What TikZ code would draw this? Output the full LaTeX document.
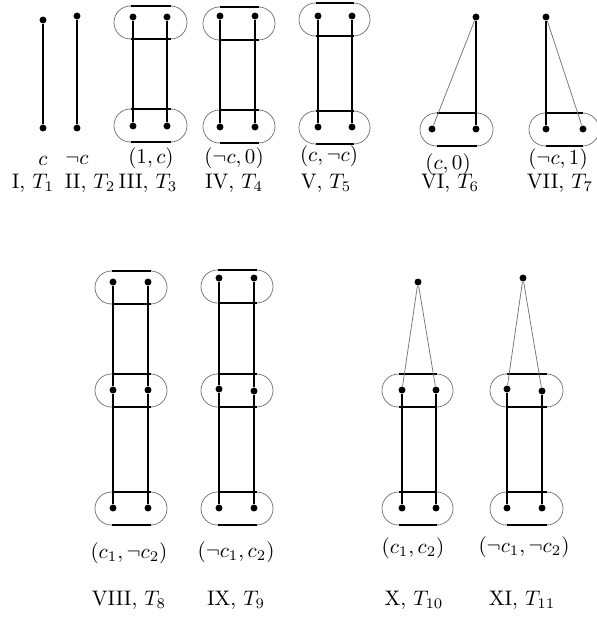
\documentclass[tikz,border=0pt]{standalone}
\usepackage{amsmath}
\usepackage{tikz}
\tikzset{
  dot/.style={circle, fill=black, inner sep=0pt, minimum size=3.3pt},
  edge/.style={line width=0.85pt, color=black},
  link/.style={line width=0.35pt, color=black!55},
  rim/.style={line width=0.35pt, color=black!55, rounded corners=7.8pt},
  bar/.style={line width=0.85pt, color=black}
}

\begin{document}
\begin{tikzpicture}[x=0.475pt, y=-0.475pt]
  \useasboundingbox (0,0) rectangle (596,619);

  % I and II: single edges
  \node[dot] (p1t) at (43,20) {};
  \node[dot] (p1b) at (43,128) {};
  \node[dot] (p2t) at (77,16) {};
  \node[dot] (p2b) at (77,128) {};
  \draw[edge] (p1t) -- (p1b);
  \draw[edge] (p2t) -- (p2b);

  % III
  \draw[rim] (114,6) rectangle (187,39);
  \draw[bar] (130.5,6) -- (170.5,6) (130.5,39) -- (170.5,39);
  \draw[rim] (114,109) rectangle (187,142);
  \draw[bar] (130.5,109) -- (170.5,109) (130.5,142) -- (170.5,142);
  \node[dot] (p3tl) at (133,17) {};
  \node[dot] (p3tr) at (167,17) {};
  \node[dot] (p3bl) at (133,126) {};
  \node[dot] (p3br) at (167,126) {};
  \draw[edge] (p3tl) -- (p3bl) (p3tr) -- (p3br);

  % IV
  \draw[rim] (203,7) rectangle (275,40);
  \draw[bar] (219.5,7) -- (258.5,7) (219.5,40) -- (258.5,40);
  \draw[rim] (203,110) rectangle (275,143);
  \draw[bar] (219.5,110) -- (258.5,110) (219.5,143) -- (258.5,143);
  \node[dot] (p4tl) at (220,16) {};
  \node[dot] (p4tr) at (255,16) {};
  \node[dot] (p4bl) at (220,127) {};
  \node[dot] (p4br) at (255,127) {};
  \draw[edge] (p4tl) -- (p4bl) (p4tr) -- (p4br);

  % V
  \draw[rim] (299,3) rectangle (370,36);
  \draw[bar] (315.5,3) -- (353.5,3) (315.5,36) -- (353.5,36);
  \draw[rim] (299,111) rectangle (370,144);
  \draw[bar] (315.5,111) -- (353.5,111) (315.5,144) -- (353.5,144);
  \node[dot] (p5tl) at (318,16) {};
  \node[dot] (p5tr) at (352,16) {};
  \node[dot] (p5bl) at (318,127) {};
  \node[dot] (p5br) at (352,127) {};
  \draw[edge] (p5tl) -- (p5bl) (p5tr) -- (p5br);

  % VI
  \draw[rim] (420,113) rectangle (493,146);
  \draw[bar] (436.5,113) -- (476.5,113) (436.5,146) -- (476.5,146);
  \node[dot] (p6t) at (476,17) {};
  \node[dot] (p6bl) at (432,129) {};
  \node[dot] (p6br) at (476,129) {};
  \draw[edge] (p6t) -- (p6br);
  \draw[link] (p6t) -- (p6bl);

  % VII
  \draw[rim] (529,113) rectangle (599,146);
  \draw[bar] (545.5,113) -- (582.5,113) (545.5,146) -- (582.5,146);
  \node[dot] (p7t) at (546,17) {};
  \node[dot] (p7bl) at (546,129) {};
  \node[dot] (p7br) at (583,129) {};
  \draw[edge] (p7t) -- (p7bl);
  \draw[link] (p7t) -- (p7br);

  % labels of the top row
  \node (c1) at (43,161) {$c$};
  \node (c2) at (77,160) {$\neg c$};
  \node (c3) at (151,158) {$(1,c)$};
  \node (c4) at (234,158) {$(\neg c,0)$};
  \node (c5) at (329,156) {$(c,\neg c)$};
  \node (c6) at (448,164) {$(c,0)$};
  \node (c7) at (558,159) {$(\neg c,1)$};
  \node (r1) at (33,183) {I, $T_1$};
  \node (r2) at (90,183) {II, $T_2$};
  \node (r3) at (148,183) {III, $T_3$};
  \node (r4) at (234,183) {IV, $T_4$};
  \node (r5) at (326,183) {V, $T_5$};
  \node (r6) at (450,183) {VI, $T_6$};
  \node (r7) at (560,183) {VII, $T_7$};

  % VIII
  \draw[rim] (95,271) rectangle (167,304);
  \draw[bar] (111.5,271) -- (150.5,271) (111.5,304) -- (150.5,304);
  \draw[rim] (95,374) rectangle (167,407);
  \draw[bar] (111.5,374) -- (150.5,374) (111.5,407) -- (150.5,407);
  \draw[rim] (95,492) rectangle (167,525);
  \draw[bar] (111.5,492) -- (150.5,492) (111.5,525) -- (150.5,525);
  \node[dot] (p8tl) at (113,282) {};
  \node[dot] (p8tr) at (148,282) {};
  \node[dot] (p8ml) at (113,390) {};
  \node[dot] (p8mr) at (148,390) {};
  \node[dot] (p8bl) at (113,508) {};
  \node[dot] (p8br) at (148,508) {};
  \draw[edge] (p8tl) -- (p8ml) -- (p8bl) (p8tr) -- (p8mr) -- (p8br);

  % IX
  \draw[rim] (201,270) rectangle (273,303);
  \draw[bar] (217.5,270) -- (256.5,270) (217.5,303) -- (256.5,303);
  \draw[rim] (201,374) rectangle (273,407);
  \draw[bar] (217.5,374) -- (256.5,374) (217.5,407) -- (256.5,407);
  \draw[rim] (201,492) rectangle (273,525);
  \draw[bar] (217.5,492) -- (256.5,492) (217.5,525) -- (256.5,525);
  \node[dot] (p9tl) at (219,278) {};
  \node[dot] (p9tr) at (254,278) {};
  \node[dot] (p9ml) at (219,389) {};
  \node[dot] (p9mr) at (254,391) {};
  \node[dot] (p9bl) at (219,508) {};
  \node[dot] (p9br) at (254,508) {};
  \draw[edge] (p9tl) -- (p9ml) -- (p9bl) (p9tr) -- (p9mr) -- (p9br);

  % X
  \draw[rim] (382,374) rectangle (453,407);
  \draw[bar] (398.5,374) -- (436.5,374) (398.5,407) -- (436.5,407);
  \draw[rim] (382,492) rectangle (453,525);
  \draw[bar] (398.5,492) -- (436.5,492) (398.5,525) -- (436.5,525);
  \node[dot] (p10t) at (418,282) {};
  \node[dot] (p10ml) at (402,390) {};
  \node[dot] (p10mr) at (436,390) {};
  \node[dot] (p10bl) at (402,508) {};
  \node[dot] (p10br) at (436,508) {};
  \draw[link] (p10t) -- (p10ml) (p10t) -- (p10mr);
  \draw[edge] (p10ml) -- (p10bl) (p10mr) -- (p10br);

  % XI
  \draw[rim] (490,374) rectangle (563,407);
  \draw[bar] (506.5,374) -- (546.5,374) (506.5,407) -- (546.5,407);
  \draw[rim] (490,492) rectangle (563,525);
  \draw[bar] (506.5,492) -- (546.5,492) (506.5,525) -- (546.5,525);
  \node[dot] (p11t) at (523,278) {};
  \node[dot] (p11ml) at (507,389) {};
  \node[dot] (p11mr) at (542,391) {};
  \node[dot] (p11bl) at (507,508) {};
  \node[dot] (p11br) at (542,508) {};
  \draw[link] (p11t) -- (p11ml) (p11t) -- (p11mr);
  \draw[edge] (p11ml) -- (p11bl) (p11mr) -- (p11br);

  % labels of the bottom row
  \node (c8) at (129,553) {$(c_1,\neg c_2)$};
  \node (c9) at (236,552) {$(\neg c_1,c_2)$};
  \node (c10) at (413,548) {$(c_1,c_2)$};
  \node (c11) at (524,547) {$(\neg c_1,\neg c_2)$};
  \node (r8) at (129,600) {VIII, $T_8$};
  \node (r9) at (236,600) {IX, $T_9$};
  \node (r10) at (414,600) {X, $T_{10}$};
  \node (r11) at (522,600) {XI, $T_{11}$};
\end{tikzpicture}
\end{document}
